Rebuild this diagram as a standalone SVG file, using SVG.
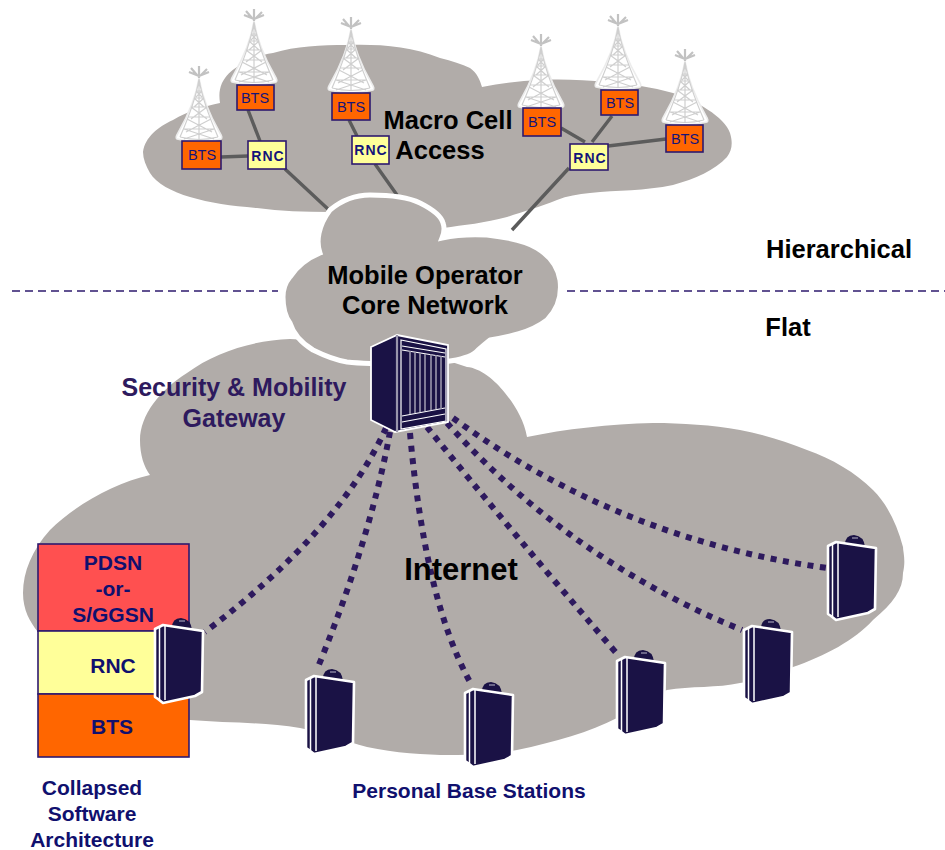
<svg xmlns="http://www.w3.org/2000/svg" width="945" height="850" viewBox="0 0 945 850">
<style>
text{font-family:"Liberation Sans",Arial,sans-serif;text-anchor:middle}
.cloud{fill:#b1aca9}
.h{font-weight:bold;font-size:25.5px;fill:#000}
.p{font-weight:bold;font-size:25px;fill:#2e1a5e}
.s{font-weight:bold;font-size:21px;fill:#10106e}
.n{font-weight:bold;font-size:21px;fill:#10106e}
.bts{fill:#ff6600;stroke:#2e1a6e;stroke-width:1.6}
.rnc{fill:#ffff99;stroke:#2e1a6e;stroke-width:1.6}
.bt{font-size:14.5px;fill:#14147a}
.rt{font-weight:bold;font-size:14px;letter-spacing:1px;fill:#14147a}
.gl{fill:none;stroke:#5c5c5c;stroke-width:3.4}
.dot{fill:none;stroke:#2e1a5e;stroke-width:6;stroke-dasharray:6 6.5}
.lat{fill:none;stroke:#cfcfcf;stroke-width:1.2}
.dark{fill:#1a1245}
</style>
<defs>
<g id="tower">
<path d="M0 1C-3 20-13 42-21 56Q-24 61-22 62Q0 68 22 62Q24 61 21 56C13 42 3 20 0 1Z" fill="#fff" stroke="#ececec" stroke-width="1.6"/>
<path class="lat" d="M0 2C-3 22-12 44-19 60M0 2C3 22 12 44 19 60M0 2V62M-3 14L3 20M3 14L-3 20M-5 21L5 30M5 21L-5 30M-8 30L8 42M8 30L-8 42M-12 42L13 55M12 42L-13 55M-15 52L15 62M15 52L-15 62M-3 14H3M-5 21H5M-8 30H8M-11 40H11M-15 52H15M-19 60Q0 65 19 60"/>
<path d="M0 1V-11M0 -1L-10 -5M0 -1L10 -5M-2 -2L-8 -9M2 -2L8 -8" fill="none" stroke="#c2c2c2" stroke-width="2.2"/>
</g>
<g id="pbs">
<path d="M17 2Q17 -8 26 -8Q36 -7 37 4Z" class="dark"/>
<path d="M24 -5H30" stroke="#8f8aa5" stroke-width="1.4"/>
<path d="M0 3L8 -1L48 5L47 66L40 70L8 77L3 73L0 71Z" class="dark" stroke="#fff" stroke-width="2.6" stroke-linejoin="round"/>
<path d="M4.5 1V73M10 0V74" stroke="#fff" stroke-width="1.5" fill="none"/>
</g>
</defs>

<path id="internet-cloud" class="cloud" d="M290 339C255 340 215 352 187 373C160 390 140 415 140 440C140 455 144 467 150 475C115 483 75 505 50 530C32 550 23 572 23 593C23 610 30 622 38 632L60 700L190 720C225 723 265 722 300 728C325 733 345 741 367 747C395 753 425 755 450 755C475 755 497 754 517 750C555 742 590 732 617 718C630 710 650 696 667 690C690 686 718 688 740 683C760 680 778 674 793 667C825 656 855 640 873 620C893 603 903 590 903 573C906 560 903 552 903 547C897 525 888 505 873 490C855 472 832 459 807 450C785 441 762 434 740 430C712 425 682 423 653 423C610 424 565 429 527 437C524 420 515 405 505 393C495 380 480 368 467 367L400 345Z"/>
<path id="macro-cloud" class="cloud" d="M143 152C145 137 158 127 173 120C188 111 205 106 220 103C219 96 219 90 222 83C226 75 231 71 237 67C247 59 260 55 273 53C296 46 321 45 347 45C378 44 410 46 440 58C452 61 462 64 470 68C477 73 480 80 482 87C500 83 520 81 540 80C562 79 585 80 607 82C630 84 652 87 673 93C695 100 725 117 730 133C733 143 732 150 727 157C715 170 695 179 673 185C645 191 617 190 590 193C578 194 567 196 557 200C540 207 522 212 507 217C485 223 464 225 443 228L330 212C305 212 280 211 257 208C232 206 210 203 190 197C172 192 156 183 150 173C146 166 143 159 143 152Z"/>

<g id="connectors">
<path class="gl" d="M221 157L248 156M248 110L260 141M285 169L329 210M349 120L357 136M375 164L397 195M561 128L585 142M612 116L592 142M666 139L608 146M569 168L512 230"/>
<path d="M12 291H278M567 291H945" fill="none" stroke="#2e1a6e" stroke-width="1.5" stroke-dasharray="8 5"/>
</g>

<path id="core-cloud" class="cloud" stroke="#fff" stroke-width="5" d="M320 253C316 242 318 226 330 210C342 200 355 195 370 195C390 195 408 197 420 203C432 209 441 215 443 223C445 228 444 233 442 238C456 235 471 234 487 235C505 237 524 240 537 248C550 256 558 268 560 280C562 296 557 310 547 320C530 333 508 337 490 340C486 343 482 347 478 350C470 360 440 364 405 364C385 364 365 364 347 362C335 360 325 356 313 350C300 342 293 333 290 323C284 315 283 306 283 297C283 288 285 283 290 277C298 265 308 258 320 253Z"/>

<g id="links">
<path class="dot" d="M386 428Q340 530 205 632"/>
<path class="dot" d="M390 432Q370 540 318 667"/>
<path class="dot" d="M410 433Q425 600 470 682"/>
<path class="dot" d="M427 427Q510 530 618 655"/>
<path class="dot" d="M447 423Q570 560 742 630"/>
<path class="dot" d="M453 418Q620 540 827 568"/>
</g>

<g id="gateway">
<path class="dark" stroke="#fff" stroke-width="1.8" d="M371 347L397 335L448 345V422L395 432L371 420Z"/>
<path d="M397 335V432" stroke="#9a96ac" stroke-width="2.2"/>
<path d="M401 340L446 349V421L401 429Z" fill="none" stroke="#fff" stroke-width="1.2"/>
<path d="M402 346L445 353M402 350L445 357M402 416L445 408M402 422L445 414" stroke="#fff" stroke-width="1.1"/>
<path d="M410 351V414M415 352V413M420 353V412M425 354V411M431 354V410M436 355V409M441 356V409" stroke="#9a96ac" stroke-width="1.6"/>
</g>

<g id="tower-1"><use href="#tower" x="199" y="77"/><rect class="bts" x="182" y="141" width="39" height="28"/><text class="bt" x="202" y="160">BTS</text></g>
<g id="tower-2"><use href="#tower" x="254" y="20"/><rect class="bts" x="237" y="85" width="37" height="25"/><text class="bt" x="255" y="103">BTS</text></g>
<g id="tower-3"><use href="#tower" x="351" y="28"/><rect class="bts" x="332" y="93" width="38" height="27"/><text class="bt" x="351" y="112">BTS</text></g>
<g id="tower-4"><use href="#tower" x="541" y="45"/><rect class="bts" x="523" y="108" width="38" height="28"/><text class="bt" x="542" y="127">BTS</text></g>
<g id="tower-5"><use href="#tower" x="618" y="25"/><rect class="bts" x="601" y="90" width="37" height="25"/><text class="bt" x="620" y="108">BTS</text></g>
<g id="tower-6"><use href="#tower" x="685" y="60"/><rect class="bts" x="666" y="125" width="37" height="27"/><text class="bt" x="685" y="144">BTS</text></g>

<g id="rnc-1"><rect class="rnc" x="248" y="141" width="38" height="28"/><text class="rt" x="268" y="161">RNC</text></g>
<g id="rnc-2"><rect class="rnc" x="352" y="136" width="37" height="28"/><text class="rt" x="371" y="155">RNC</text></g>
<g id="rnc-3"><rect class="rnc" x="570" y="144" width="38" height="26"/><text class="rt" x="590" y="163">RNC</text></g>

<g id="stack">
<rect x="38" y="544" width="151" height="87" fill="#ff5050" stroke="#2e1a6e" stroke-width="1.6"/>
<rect x="38" y="631" width="151" height="63" fill="#ffff99" stroke="#2e1a6e" stroke-width="1.6"/>
<rect x="38" y="694" width="151" height="63" fill="#ff6600" stroke="#2e1a6e" stroke-width="1.6"/>
<text class="s" x="113" y="570">PDSN</text>
<text class="s" x="113" y="596">-or-</text>
<text class="s" x="113" y="622">S/GGSN</text>
<text class="s" x="113" y="673">RNC</text>
<text class="s" x="112" y="734">BTS</text>
</g>

<g id="pbs-1"><use href="#pbs" x="155" y="626"/></g>
<g id="pbs-2"><use href="#pbs" x="306" y="677"/></g>
<g id="pbs-3"><use href="#pbs" x="465" y="690"/></g>
<g id="pbs-4"><use href="#pbs" x="617" y="658"/></g>
<g id="pbs-5"><use href="#pbs" x="744" y="627"/></g>
<g id="pbs-6"><use href="#pbs" x="828" y="543"/></g>

<g id="labels">
<text class="h" x="448" y="129">Macro Cell</text>
<text class="h" x="440" y="159">Access</text>
<text class="h" x="425" y="284">Mobile Operator</text>
<text class="h" x="425" y="314">Core Network</text>
<text class="h" x="839" y="258">Hierarchical</text>
<text class="h" x="788" y="336">Flat</text>
<text class="p" x="234" y="396">Security &amp; Mobility</text>
<text class="p" x="234" y="427">Gateway</text>
<text class="h" x="461" y="580" style="font-size:31px">Internet</text>
<text class="n" x="469" y="798">Personal Base Stations</text>
<text class="n" x="92" y="795">Collapsed</text>
<text class="n" x="92" y="821">Software</text>
<text class="n" x="92" y="847">Architecture</text>
</g>
</svg>
